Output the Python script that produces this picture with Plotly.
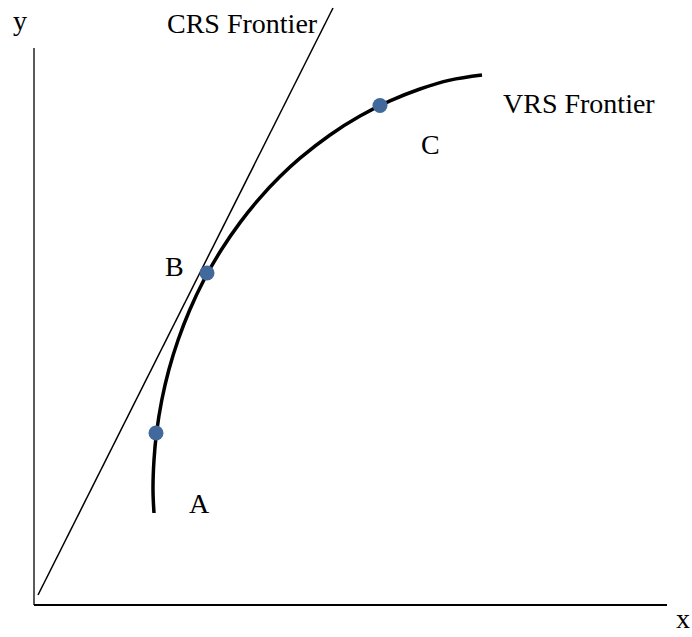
import plotly.graph_objects as go

# Axis frame (data units, origin at the axes corner)
axis_x_end = 633
axis_y_end = 557

# CRS frontier (straight line)
crs_x = [4, 299]
crs_y = [10, 597]

# VRS frontier (curve)
vrs_x = [120, 119, 120, 122.5, 127.8, 134.8, 144.1, 155.7, 169.9, 187.2, 206, 226, 246,
         266, 296, 326, 356, 386, 416, 448]
vrs_y = [92, 115, 145, 172, 205, 235, 265, 295, 325, 355, 382.4, 407.2, 428.4,
         446.8, 470, 488.9, 504.1, 516, 524.9, 530]

# Observed points
pt_x = [122, 173, 346]
pt_y = [172, 332, 499.5]

# Text labels
label_text = ["y", "x", "CRS Frontier", "VRS Frontier", "A", "B", "C"]
label_x = [-14, 649, 208.5, 545, 165, 140, 396.5]
label_y = [585, -13, 582, 502, 102, 339, 461]

fig = go.Figure()

# axes drawn as lines
fig.add_trace(go.Scatter(x=[0, 0], y=[0, axis_y_end], mode="lines",
                         line=dict(color="black", width=1.3), hoverinfo="skip"))
fig.add_trace(go.Scatter(x=[0, axis_x_end], y=[0, 0], mode="lines",
                         line=dict(color="black", width=2), hoverinfo="skip"))

fig.add_trace(go.Scatter(x=crs_x, y=crs_y, mode="lines",
                         line=dict(color="black", width=1.5), hoverinfo="skip"))
fig.add_trace(go.Scatter(x=vrs_x, y=vrs_y, mode="lines",
                         line=dict(color="black", width=3.5, shape="spline", smoothing=1.0),
                         hoverinfo="skip"))
fig.add_trace(go.Scatter(x=pt_x, y=pt_y, mode="markers",
                         marker=dict(color="#41699B", size=15, line=dict(width=0)),
                         hoverinfo="skip"))

for t, x, y in zip(label_text, label_x, label_y):
    fig.add_annotation(x=x, y=y, xref="x", yref="y", text=t, showarrow=False,
                       xanchor="center", yanchor="middle",
                       font=dict(family="Liberation Serif", size=28, color="black"))

fig.update_layout(
    width=692, height=637,
    margin=dict(l=0, r=0, t=0, b=0),
    paper_bgcolor="white", plot_bgcolor="white",
    showlegend=False,
    xaxis=dict(range=[-34, 658], visible=False, fixedrange=True),
    yaxis=dict(range=[-32, 605], visible=False, fixedrange=True),
)

fig.write_html("out.html", config={"displayModeBar": False},
               post_script="document.body.style.margin='0';document.body.style.overflow='hidden';")
